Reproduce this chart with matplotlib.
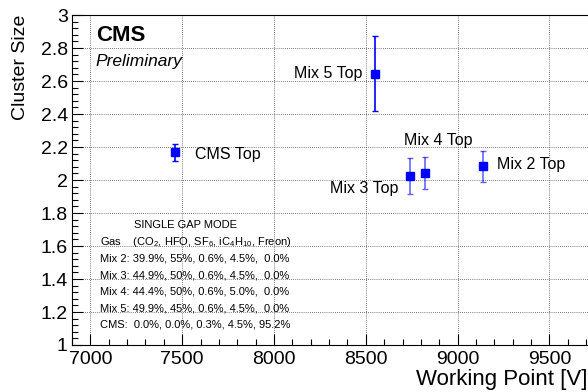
import matplotlib
matplotlib.use('Agg')
from matplotlib import pyplot as plt
from matplotlib.ticker import MultipleLocator
import numpy as np

plt.rcParams['font.family'] = ['Liberation Sans', 'DejaVu Sans']
plt.rcParams['mathtext.fontset'] = 'custom'
plt.rcParams['mathtext.rm'] = 'Liberation Sans'
plt.rcParams['mathtext.it'] = 'Liberation Sans:italic'

# Data
names = ['CMS Top', 'Mix 3 Top', 'Mix 4 Top', 'Mix 2 Top', 'Mix 5 Top']
working_point = [7462, 8741, 8821, 9137, 8552]
cluster_size = [2.167, 2.024, 2.042, 2.084, 2.645]
cluster_err = [0.049, 0.108, 0.095, 0.094, 0.225]
wp_err = [0, 0, 0, 0, 12]
bar_alpha = [1.0, 0.6, 0.6, 0.6, 1.0]

# label anchors (data coords) and alignment
label_x = [7571, 8307, 8710, 9212, 8481]
label_y = [2.157, 1.946, 2.241, 2.096, 2.645]
label_ha = ['left', 'left', 'left', 'left', 'right']

legend_lines = [
    'Gas    (CO$_2$, HFO, SF$_6$, iC$_4$H$_{10}$, Freon)',
    'Mix 2: 39.9%, 55%, 0.6%, 4.5%,  0.0%',
    'Mix 3: 44.9%, 50%, 0.6%, 4.5%,  0.0%',
    'Mix 4: 44.4%, 50%, 0.6%, 5.0%,  0.0%',
    'Mix 5: 49.9%, 45%, 0.6%, 4.5%,  0.0%',
    'CMS:  0.0%, 0.0%, 0.3%, 4.5%, 95.2%',
]

fig = plt.figure(figsize=(5.88, 3.92), dpi=100)
ax = fig.add_axes([0.1224, 0.1199, 0.8776, 0.8418])

for i in range(len(names)):
    ax.errorbar(working_point[i], cluster_size[i], yerr=cluster_err[i],
                xerr=wp_err[i] if wp_err[i] else None,
                fmt='none', ecolor=(0, 0, 1, bar_alpha[i]), elinewidth=1.2,
                capsize=2.5, capthick=1.0, zorder=3)
    ax.plot(working_point[i], cluster_size[i], 's', color='#0000ff',
            markersize=5.5, zorder=4)
    ax.text(label_x[i], label_y[i], names[i], ha=label_ha[i], va='center',
            fontsize=11.5)

ax.set_xlim(6900, 9710)
ax.set_ylim(1, 3)
ax.xaxis.set_major_locator(MultipleLocator(500))
ax.xaxis.set_minor_locator(MultipleLocator(100))
ax.yaxis.set_major_locator(MultipleLocator(0.2))
ax.yaxis.set_minor_locator(MultipleLocator(0.04))
ax.yaxis.set_major_formatter(plt.FuncFormatter(lambda v, p: f'{v:g}'))
ax.tick_params(which='major', direction='in', length=8, width=0.8, labelsize=14)
ax.tick_params(which='minor', direction='in', length=4, width=0.8)
ax.tick_params(axis='x', pad=4)
ax.tick_params(axis='y', pad=3)
ax.spines['right'].set_visible(False)
ax.grid(True, which='major', color='black', linestyle=(0, (1, 2)), linewidth=0.5)

ax.set_xlabel('Working Point [V]', fontsize=16, loc='right', labelpad=1)
ax.set_ylabel('Cluster Size', fontsize=14, loc='top', labelpad=8)

ax.text(0.0465, 0.939, 'CMS', transform=ax.transAxes, fontsize=16,
        fontweight='bold', va='center')
ax.text(0.0465, 0.858, 'Preliminary', transform=ax.transAxes, fontsize=12.5,
        style='italic', va='center')

ax.text(7240, 1.725, 'SINGLE GAP MODE', fontsize=8, va='center')
for j, line in enumerate(legend_lines):
    ax.text(7055, 1.622 - j * 0.0995, line, fontsize=8, va='center')

fig.savefig('out.png', dpi=100)
